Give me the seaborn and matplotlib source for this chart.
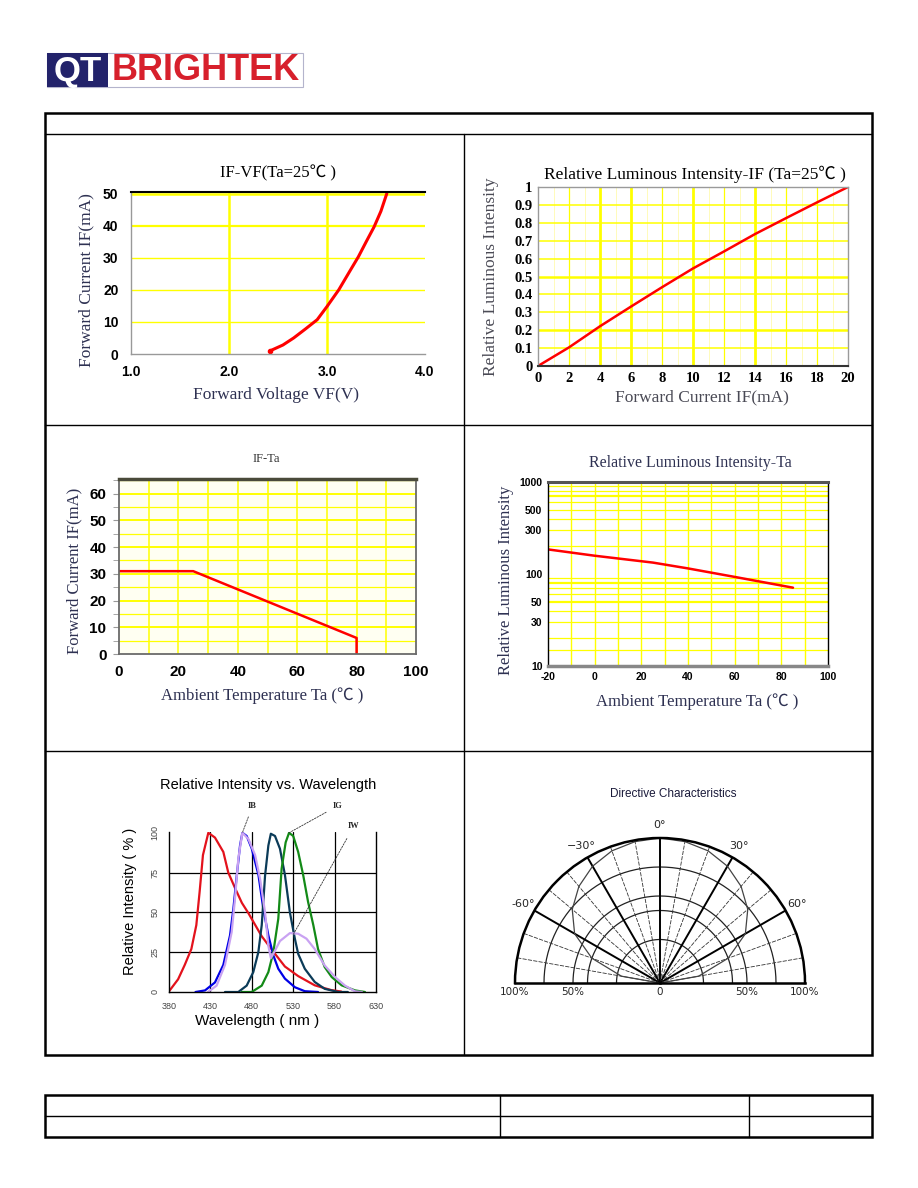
import numpy as np
import pandas as pd
import matplotlib.pyplot as plt
import matplotlib.patches as mpatches
import seaborn as sns

W, H = 918, 1188

# IF-VF (Ta=25C)
vf_volt = [2.42, 2.55, 2.66, 2.78, 2.90, 3.00, 3.12, 3.24, 3.32, 3.40, 3.48, 3.55, 3.61]
vf_curr = [1.0, 2.8, 5.0, 7.8, 10.7, 14.8, 20.0, 26.2, 30.3, 35.0, 39.6, 44.5, 50.0]

# relative luminous intensity vs IF
li_curr = [0, 2, 4, 6, 8, 10, 12, 14, 16, 18, 20]
li_rel = [0.0, 0.104, 0.222, 0.332, 0.44, 0.545, 0.64, 0.737, 0.826, 0.914, 1.0]

# IF derating vs Ta
der_temp = [0, 25, 80, 80]
der_curr = [31, 31, 6, 0]

# relative luminous intensity vs Ta
lt_temp = [-20, 0, 25, 40, 60, 85]
lt_rel = [185, 158, 133, 115, 93, 71]

# spectra (nm, %)
red_nm = [380, 391, 399, 407, 413, 417, 421, 427.5, 435.5, 445.6, 451.6, 460, 468, 475.8,
          492, 508, 520, 536, 556, 576, 588]
red_pct = [0.4, 8, 17, 27, 42, 63, 86, 100, 97, 88, 75, 65, 56, 49.6, 35, 24, 16, 10, 4.2, 1.2, 0.3]
blue_nm = [412, 423.5, 435.5, 445.6, 453.7, 457.7, 461.8, 465.8, 468.6, 473.8, 480, 488, 494,
           500, 506, 512, 520, 532, 544, 560]
blue_pct = [0, 1, 6, 17, 35.6, 52, 73, 92, 100, 98, 90, 73.6, 52, 35.6, 23, 14.6, 8.4, 3, 0.5, 0]
iw_nm = [427, 437.5, 447.6, 455.7, 459.7, 463.7, 468.6, 476, 484, 490, 496, 500, 503, 508, 514,
         526, 536, 546, 556, 568, 580.5, 592.6, 604.7, 613]
iw_pct = [0, 4, 17, 37.6, 58.6, 83.7, 100, 96, 86, 71, 50, 29, 21.3, 26, 32, 37, 36.6, 33.5,
          27, 16.7, 9.4, 4, 0.4, 0]
teal_nm = [447.6, 463.7, 473.8, 481.8, 487.9, 492, 496, 500, 503, 508, 514, 520, 526, 532, 536,
           544, 556, 568, 584.5, 596]
teal_pct = [0, 0, 4, 12.5, 25, 42, 73, 92, 99.4, 98, 90, 73.6, 50, 33.5, 24, 14.6, 6.3, 2, 0, 0]
green_nm = [467.8, 479.8, 492, 500, 506, 512, 516, 520.9, 525, 530, 536, 542, 548, 554.3, 560,
            568, 576.5, 588.5, 604.7, 616.7]
green_pct = [0, 0, 4, 12.5, 25, 46, 77.4, 94, 100, 98, 88, 73.6, 56.5, 42, 27, 15.7, 9.4, 4.2, 1, 0]

# directive characteristics
dir_angle = [-90, -80, -70, -60, -50, -40, -30, -20, -10, 0, 10, 20, 30, 40, 50, 60, 70, 80, 90]
dir_rel = [0, 0.27, 0.5, 0.68, 0.79, 0.87, 0.93, 0.97, 0.99, 1.0, 0.99, 0.97, 0.93, 0.87, 0.79,
           0.68, 0.5, 0.27, 0]

sns.set_style("white")
SERIF = ["Liberation Serif", "Noto Sans CJK SC"]
SANS = ["Liberation Sans", "DejaVu Sans"]
plt.rcParams["font.family"] = SANS
YEL = "#ffff00"
LBL = "#2e3152"

fig = plt.figure(figsize=(W / 100, H / 100), dpi=100)


def px_rect(l, t, r, b):
    return [l / W, 1 - b / H, (r - l) / W, (b - t) / H]


def ftext(x, y, s, **kw):
    fig.text(x / W, 1 - y / H, s, ha=kw.pop("ha", "center"), va=kw.pop("va", "center"), **kw)


def tick_font(ax, size, family, weight="bold", color="black"):
    for t in ax.get_xticklabels() + ax.get_yticklabels():
        t.set_fontsize(size)
        t.set_family(family)
        t.set_fontweight(weight)
        t.set_color(color)


# page frame, logo, table
bg = fig.add_axes([0, 0, 1, 1], zorder=-5)
bg.set_xlim(0, W)
bg.set_ylim(H, 0)
bg.axis("off")
bg.add_patch(mpatches.Rectangle((47, 53), 256, 34, fc="white", ec="#b4b4cc", lw=0.8))
bg.add_patch(mpatches.Rectangle((47, 53), 61, 34, fc="#23236b", ec="none"))
ftext(77.5, 71, "QT", color="white", fontsize=25, fontweight="bold", family=SANS)
ftext(206, 71, "BRIGHTEK", color="#d7202c", fontsize=26, fontweight="bold", family=SANS)

bg.add_patch(mpatches.Rectangle((45, 113), 827, 942, fc="none", ec="black", lw=1.8))
bg.plot([45, 872], [134, 134], color="black", lw=1)
bg.plot([464, 464], [134, 1055], color="black", lw=1)
bg.plot([45, 872], [425, 425], color="black", lw=1)
bg.plot([45, 872], [751, 751], color="black", lw=1)

bg.add_patch(mpatches.Rectangle((45, 1095), 827, 42, fc="none", ec="black", lw=1.8))
bg.plot([45, 872], [1116, 1116], color="black", lw=1)
bg.plot([500, 500], [1095, 1137], color="black", lw=1)
bg.plot([749, 749], [1095, 1137], color="black", lw=1)

# panel 1: IF-VF
ax1 = fig.add_axes(px_rect(131, 192, 425, 354))
for v in [2, 3]:
    ax1.axvline(v, color=YEL, lw=1.8, zorder=0)
for h, w in [(10, 1.0), (20, 1.0), (30, 1.0), (40, 1.6), (50, 1.8)]:
    ax1.axhline(h, color=YEL, lw=w, zorder=0)
sns.lineplot(x=vf_volt, y=vf_curr, ax=ax1, color="#ff0000", linewidth=2.2,
             sort=False, estimator=None)
ax1.plot(vf_volt[0], vf_curr[0], "o", color="#ff0000", ms=3)
ax1.set_xlim(1.0, 4.0)
ax1.set_ylim(0, 50.5)
ax1.set_xticks([1, 2, 3, 4])
ax1.set_xticklabels(["1.0", "2.0", "3.0", "4.0"])
ax1.set_yticks([0, 10, 20, 30, 40, 50])
ax1.set_yticklabels(["0", "10", "20", "30", "40", "50"])
ax1.tick_params(length=0)
ax1.tick_params(axis="y", pad=9)
ax1.tick_params(axis="x", pad=8)
tick_font(ax1, 10, SANS)
ax1.spines["top"].set_color("black")
ax1.spines["top"].set_linewidth(1.5)
for s in ["left", "bottom"]:
    ax1.spines[s].set_color("#999999")
    ax1.spines[s].set_linewidth(1)
ax1.spines["right"].set_visible(False)
ax1.set_xlabel("")
ax1.set_ylabel("")
ftext(278, 173, "IF-VF(Ta=25℃ )", fontsize=12, family=SERIF, color="black")
ftext(86, 280, "Forward Current IF(mA)", fontsize=12.5, family=SERIF, color=LBL, rotation=90)
ftext(276, 395, "Forward Voltage VF(V)", fontsize=12.5, family=SERIF, color=LBL)

# panel 2: relative luminous intensity - IF
ax2 = fig.add_axes(px_rect(538, 187, 848, 366))
for v in range(2, 20, 2):
    ax2.axvline(v, color=YEL, lw=2.0 if v in (4, 6, 10, 14) else 0.9, zorder=0)
for v in range(1, 20, 2):
    ax2.axvline(v, color="#fffbb0", lw=0.6, zorder=0)
for i in range(1, 10):
    ax2.axhline(i / 10, color=YEL, lw=1.8 if i in (2, 5) else 1.1, zorder=0)
sns.lineplot(x=li_curr, y=li_rel, ax=ax2, color="#ff0000", linewidth=1.8,
             sort=False, estimator=None)
ax2.set_xlim(0, 20)
ax2.set_ylim(0, 1)
ax2.set_xticks(li_curr)
ax2.set_xticklabels([str(v) for v in li_curr])
yt = [i / 10 for i in range(11)]
ax2.set_yticks(yt)
ax2.set_yticklabels(["0"] + [f"{v:.1f}" for v in yt[1:-1]] + ["1"])
ax2.tick_params(length=0, pad=4)
tick_font(ax2, 10.5, SERIF)
for s in ["top", "left", "right"]:
    ax2.spines[s].set_color("#9a9a9a")
    ax2.spines[s].set_linewidth(1)
ax2.spines["bottom"].set_color("#333333")
ax2.spines["bottom"].set_linewidth(1.5)
ax2.set_xlabel("")
ax2.set_ylabel("")
ftext(695, 174, "Relative Luminous Intensity-IF (Ta=25℃ )", fontsize=12.5, family=SERIF,
      color="black")
ftext(491, 277, "Relative Luminous Intensity", fontsize=12.5, family=SERIF, color="#4a4a55",
      rotation=90)
ftext(702, 397, "Forward Current IF(mA)", fontsize=12.5, family=SERIF, color="#4a4a55")

# panel 3: IF - Ta
ax3 = fig.add_axes(px_rect(119, 479, 416, 654))
ax3.set_facecolor("#fffff2")
for v in range(10, 100, 10):
    ax3.axvline(v, color=YEL, lw=1.1, zorder=0)
for h in range(5, 66, 5):
    ax3.axhline(h, color=YEL, lw=1.4 if h % 10 == 0 else 0.9, zorder=0)
sns.lineplot(x=der_temp, y=der_curr, ax=ax3, color="#ff0000", linewidth=1.8,
             sort=False, estimator=None)
ax3.set_xlim(0, 100)
ax3.set_ylim(0, 65.5)
ax3.set_xticks([0, 20, 40, 60, 80, 100])
ax3.set_xticklabels(["0", "20", "40", "60", "80", "100"])
ax3.set_yticks([0, 10, 20, 30, 40, 50, 60])
ax3.set_yticklabels(["0", "10", "20", "30", "40", "50", "60"])
ax3.set_yticks(list(range(5, 66, 5)), minor=True)
ax3.tick_params(axis="x", length=0, pad=8)
ax3.tick_params(axis="y", which="both", direction="out", length=4, color="#999999", pad=5,
                left=True)
tick_font(ax3, 11, SANS)
ax3.spines["top"].set_color("#4a4a3a")
ax3.spines["top"].set_linewidth(2.5)
for s in ["left", "right", "bottom"]:
    ax3.spines[s].set_color("#6a6a6a")
    ax3.spines[s].set_linewidth(1.3)
ax3.set_xlabel("")
ax3.set_ylabel("")
ftext(266, 459, "IF-Ta", fontsize=9, family=SERIF, color="#333333")
ftext(74, 571, "Forward Current IF(mA)", fontsize=12, family=SERIF, color=LBL, rotation=90)
ftext(262, 696, "Ambient Temperature Ta (℃ )", fontsize=12, family=SERIF, color=LBL)

# panel 4: relative luminous intensity - Ta (log)
ax4 = fig.add_axes(px_rect(548, 482, 828, 666))
ax4.set_yscale("log")
for v in range(-10, 100, 10):
    ax4.axvline(v, color=YEL, lw=1.0, zorder=0)
for h in [15, 20, 30, 40, 50, 60, 70, 80, 90, 200, 300, 400, 500, 600, 700, 800, 900]:
    ax4.axhline(h, color=YEL, lw=1.6 if h in (50, 80, 700) else 0.9, zorder=0)
sns.lineplot(x=lt_temp, y=lt_rel, ax=ax4, color="#ff0000", linewidth=1.8,
             sort=False, estimator=None)
ax4.set_xlim(-20, 100)
ax4.set_ylim(10, 1000)
ax4.set_xticks([-20, 0, 20, 40, 60, 80, 100])
ax4.set_xticklabels(["-20", "0", "20", "40", "60", "80", "100"])
ax4.set_yticks([10, 30, 50, 100, 300, 500, 1000])
ax4.set_yticklabels(["10", "30", "50", "100", "300", "500", "1000"])
ax4.yaxis.set_minor_locator(plt.NullLocator())
ax4.tick_params(length=0, pad=4)
tick_font(ax4, 7.5, SANS)
ax4.spines["top"].set_color("#555555")
ax4.spines["top"].set_linewidth(2.2)
ax4.spines["bottom"].set_color("#888888")
ax4.spines["bottom"].set_linewidth(2.5)
for s in ["left", "right"]:
    ax4.spines[s].set_color("black")
    ax4.spines[s].set_linewidth(1)
ax4.set_xlabel("")
ax4.set_ylabel("")
ftext(690, 463, "Relative Luminous Intensity-Ta", fontsize=11.5, family=SERIF, color=LBL)
ftext(506, 580, "Relative Luminous Intensity", fontsize=12, family=SERIF, color=LBL, rotation=90)
ftext(697, 702, "Ambient Temperature Ta (℃ )", fontsize=12, family=SERIF, color=LBL)

# panel 5: spectrum
ax5 = fig.add_axes(px_rect(169, 832, 376, 992))
for v in [430, 480, 530, 580]:
    ax5.axvline(v, color="black", lw=0.9, zorder=0)
for h in [25, 50, 75]:
    ax5.axhline(h, color="black", lw=0.9, zorder=0)
spectra = [
    (red_nm, red_pct, "#e3121c"),
    (blue_nm, blue_pct, "#0000e6"),
    (teal_nm, teal_pct, "#0b3b58"),
    (green_nm, green_pct, "#138a17"),
    (iw_nm, iw_pct, "#c9a2f2"),
]
for xs, ys, c in spectra:
    sns.lineplot(x=xs, y=ys, ax=ax5, color=c, linewidth=1.6, sort=False, estimator=None)
ax5.set_xlim(380, 630)
ax5.set_ylim(0, 100.5)
ax5.set_xticks([380, 430, 480, 530, 580, 630])
ax5.set_xticklabels(["380", "430", "480", "530", "580", "630"])
ax5.set_yticks([0, 25, 50, 75, 100])
ax5.set_yticklabels(["0", "25", "50", "75", "100"], rotation=90, va="center")
ax5.tick_params(length=0, pad=7)
tick_font(ax5, 6.5, SANS, weight="normal", color="#444444")
ax5.spines["top"].set_visible(False)
for s in ["left", "right", "bottom"]:
    ax5.spines[s].set_color("black")
    ax5.spines[s].set_linewidth(1)
ax5.set_xlabel("")
ax5.set_ylabel("")
ann = dict(fontsize=6, fontweight="bold", family=SERIF, ha="center", va="center",
           annotation_clip=False)
ax5.annotate("IB", xy=(468.6, 100), xytext=(481, 117),
             arrowprops=dict(arrowstyle="-", ls=(0, (2, 1.5)), lw=0.6, color="#333333",
                             shrinkA=3, shrinkB=0), **ann)
ax5.annotate("IG", xy=(525, 100), xytext=(584, 117),
             arrowprops=dict(arrowstyle="-", ls=(0, (2, 1.5)), lw=0.6, color="#333333",
                             shrinkA=3, shrinkB=0), **ann)
ax5.annotate("IW", xy=(530, 36), xytext=(603, 104),
             arrowprops=dict(arrowstyle="-", ls=(0, (2, 1.5)), lw=0.6, color="#333333",
                             shrinkA=4, shrinkB=0), **ann)
ftext(268, 785, "Relative Intensity vs. Wavelength", fontsize=10.5, family=SANS, color="black")
ftext(130, 901, "Relative Intensity ( % )", fontsize=10.5, family=SANS, color="black",
      rotation=90)
ftext(257, 1021, "Wavelength ( nm )", fontsize=11, family=SANS, color="black")

# panel 6: directive characteristics (polar)
# a half-disc polar axes draws at half the box size, so the box is doubled around the centre
ax6 = fig.add_axes(px_rect(370, 765.5, 950, 1055.5), projection="polar")
ax6.set_theta_zero_location("N")
ax6.set_theta_direction(-1)
ax6.set_thetamin(-90)
ax6.set_thetamax(90)
ax6.set_ylim(0, 1)
ax6.grid(False)
ax6.set_xticks([])
ax6.set_yticks([])
th = np.linspace(-np.pi / 2, np.pi / 2, 181)
for r in [0.3, 0.5, 0.6, 0.8]:
    ax6.plot(th, np.full_like(th, r), color="#222222", lw=0.9)
for a in range(-80, 90, 10):
    if a % 30 == 0:
        ax6.plot([np.deg2rad(a)] * 2, [0, 1], color="black", lw=1.4)
    else:
        ax6.plot([np.deg2rad(a)] * 2, [0, 1], color="#333333", lw=0.6, ls=(0, (5, 1.5)))
sns.lineplot(x=np.deg2rad(dir_angle), y=dir_rel, ax=ax6, color="#444444", linewidth=0.9,
             sort=False, estimator=None)
ax6.set_xlabel("")
ax6.set_ylabel("")
for s in ["polar", "start", "end"]:
    ax6.spines[s].set_linewidth(1.8)
    ax6.spines[s].set_color("black")
for a, s in [(0, "0°"), (-30, "−30°"), (30, "30°"), (-60, "-60°"), (60, "60°")]:
    ax6.text(np.deg2rad(a), 1.09, s, fontsize=8, family=["DejaVu Sans"], ha="center",
             va="center")
for a, r, s in [(-90, 1.0, "100%"), (-90, 0.6, "50%"), (0, 0.0, "0"), (90, 0.6, "50%"),
                (90, 1.0, "100%")]:
    ax6.annotate(s, xy=(np.deg2rad(a), r), xytext=(0, -3), textcoords="offset points",
                 ha="center", va="top", fontsize=7.5, family=["DejaVu Sans"],
                 annotation_clip=False)
ftext(673, 794, "Directive Characteristics", fontsize=8.5, family=SANS, color="#1a1a3a")

fig.savefig("out.png", dpi=100)
